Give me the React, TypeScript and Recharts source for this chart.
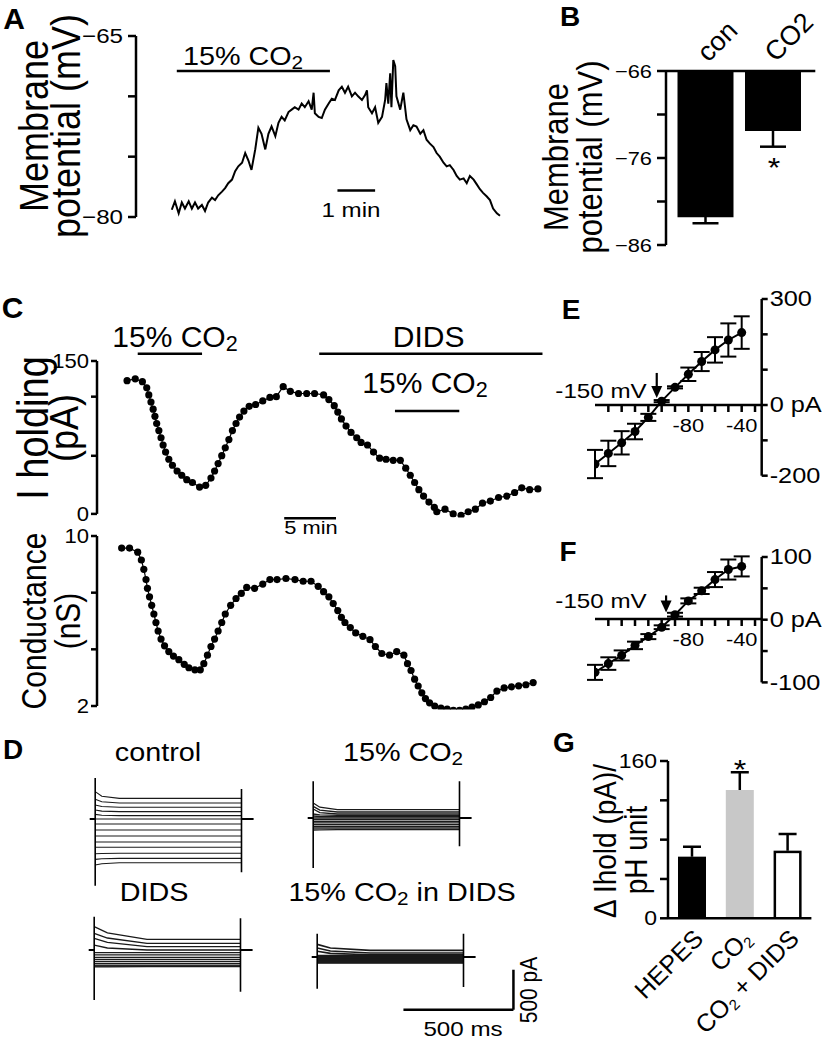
import React from "react";
import {
  LineChart, Line, BarChart, Bar, XAxis, YAxis, ErrorBar,
  ReferenceLine, ReferenceDot,
} from "recharts";

const FONT = '"Liberation Sans", Arial, Helvetica, sans-serif';
const AXIS = { stroke: "#000", strokeWidth: 2.5 };

// ---------- A: membrane potential trace ----------
const A_TIME_S = [0, 5, 11, 16, 21, 27, 32, 37, 42, 48, 53, 58, 64, 69, 74, 80, 85, 90, 96, 101, 106, 112, 117, 122, 127, 133, 138, 143, 149, 154, 159, 165, 170, 175, 180, 186, 191, 196, 202, 207, 212, 218, 223, 226, 228, 234, 239, 244, 250, 255, 260, 266, 271, 276, 281, 287, 292, 297, 303, 308, 311, 313, 319, 324, 329, 335, 340, 342, 345, 348, 350, 353, 356, 358, 364, 369, 374, 380, 385, 390, 396, 401, 406, 411, 417, 422, 427, 433, 438, 443, 449, 454, 459, 465, 470, 475, 481, 486, 491, 496, 502, 507, 512, 518, 523];
const A_VM = [-79.4, -78.7, -79.7, -78.8, -79.3, -78.7, -79.3, -78.8, -79.3, -79.0, -79.5, -78.8, -78.4, -78.6, -78.2, -77.9, -77.6, -77.2, -76.9, -76.2, -75.8, -75.5, -74.7, -75.3, -76.1, -74.4, -72.6, -73.1, -74.4, -73.1, -72.5, -73.3, -72.2, -71.7, -72.0, -71.3, -71.1, -70.9, -71.1, -70.6, -70.9, -70.4, -71.1, -69.7, -71.4, -71.7, -71.8, -71.1, -70.6, -70.2, -70.3, -69.5, -69.2, -69.7, -69.2, -70.0, -69.7, -70.0, -70.3, -69.9, -69.5, -70.9, -71.4, -70.9, -72.2, -71.7, -70.3, -68.9, -70.6, -68.1, -70.9, -67.0, -67.5, -70.0, -71.1, -69.7, -71.9, -72.8, -72.4, -72.5, -73.1, -72.8, -73.6, -73.9, -74.2, -74.7, -75.0, -75.5, -75.8, -75.7, -76.1, -76.6, -76.9, -76.8, -77.2, -76.6, -76.9, -77.3, -77.7, -78.0, -78.3, -78.6, -79.3, -79.7, -79.9];
const A_TICKS = [-80, -75, -70, -65];

// ---------- B: mean membrane potential ----------
const B_GROUPS = ["con", "CO2"];
const B_VM = [-82.8, -72.9];
const B_SEM = [0.7, 1.8];
const B_TICKS = [-86, -81, -76, -71, -66];

// ---------- C: holding current and conductance vs time ----------
const C_TIME_MIN = [0, 0.79, 1.48, 1.9, 2.1, 2.31, 2.52, 2.69, 2.86, 3.07, 3.28, 3.48, 3.72, 4.03, 4.38, 4.83, 5.28, 5.76, 6.31, 7.0, 7.59, 8.1, 8.45, 8.79, 9.14, 9.48, 9.83, 10.17, 10.52, 10.86, 11.28, 11.79, 12.41, 13.1, 13.79, 14.41, 15.07, 15.76, 16.55, 17.34, 18.1, 18.97, 19.48, 20.0, 20.34, 20.69, 21.14, 21.62, 22.17, 22.59, 23.21, 23.79, 24.38, 25.0, 25.69, 26.38, 26.9, 27.34, 27.76, 28.17, 28.62, 29.14, 29.66, 29.9, 30.69, 31.48, 32.24, 32.93, 33.62, 34.31, 35.07, 35.86, 36.66, 37.41, 38.1, 38.86, 39.66];
const C_IHOLD_PA = [130.7, 132.5, 129.7, 123.7, 116.7, 109.7, 102.7, 95.7, 88.7, 81.7, 74.7, 67.6, 60.6, 53.6, 47.7, 42.1, 37.9, 33.6, 30.8, 26.3, 28.0, 35.1, 42.1, 49.4, 57.1, 64.8, 72.9, 81.7, 88.7, 95.0, 100.9, 105.5, 107.3, 110.8, 114.3, 115.0, 124.8, 120.2, 118.1, 118.1, 118.1, 116.7, 112.2, 106.2, 99.9, 93.2, 86.2, 79.9, 74.7, 70.1, 67.6, 60.6, 54.7, 53.6, 52.6, 52.6, 44.9, 37.9, 30.8, 23.8, 17.5, 11.6, 6.3, 2.1, 4.6, 0, -1.4, 2.1, 4.6, 10.5, 12.6, 16.1, 17.5, 21.0, 25.6, 23.8, 24.5];
const C_G_TIME_MIN = [-0.52, 0.24, 1.03, 1.38, 1.62, 1.83, 1.97, 2.17, 2.38, 2.59, 2.79, 3.0, 3.28, 3.62, 4.03, 4.48, 5.0, 5.52, 5.97, 6.55, 7.07, 7.41, 7.76, 8.1, 8.45, 8.79, 9.14, 9.48, 10.0, 10.52, 11.03, 11.55, 12.31, 13.1, 13.79, 14.48, 15.34, 16.21, 17.0, 17.76, 18.45, 18.97, 19.48, 19.9, 20.34, 20.69, 21.03, 21.55, 22.07, 22.76, 23.45, 23.97, 24.59, 25.34, 26.03, 26.72, 27.07, 27.41, 27.76, 28.1, 28.45, 28.8, 29.2, 29.7, 30.3, 30.9, 31.5, 32.1, 32.7, 33.3, 33.9, 34.5, 35.1, 35.7, 36.4, 37.1, 37.8, 38.5, 39.2];
const C_G_NS = [9.43, 9.43, 9.24, 8.87, 8.43, 7.95, 7.54, 7.14, 6.74, 6.33, 5.93, 5.53, 5.15, 4.83, 4.56, 4.35, 4.18, 3.96, 3.8, 3.7, 3.7, 3.99, 4.39, 4.8, 5.15, 5.53, 5.93, 6.33, 6.74, 7.06, 7.3, 7.58, 7.54, 7.74, 7.95, 7.95, 8.0, 7.95, 7.87, 7.87, 7.63, 7.38, 7.14, 6.82, 6.49, 6.17, 5.93, 5.69, 5.44, 5.28, 5.12, 4.8, 4.47, 4.39, 4.56, 4.39, 3.99, 3.67, 3.26, 2.94, 2.62, 2.35, 2.15, 2.0, 1.9, 1.85, 1.8, 1.8, 1.85, 1.95, 2.05, 2.2, 2.4, 2.7, 2.85, 2.9, 2.95, 3.0, 3.1];
const C_I_TICKS = [0, 57, 115, 150];
const C_G_TICKS = [2, 4.667, 7.333, 10];

// ---------- D: current families (pA, relative to holding) ----------
const D_T_FAST = [0, 30, 110, 665];
const D_T_SLOW = [0, 60, 240, 665];
const D_CTRL_START = [342, 246, 175, 112, 58, 0, -62, -138, -212, -288, -354, -435, -505, -575];
const D_CTRL_MID = [285, 215, 156, 98, 46, 0, -62, -138, -212, -288, -354, -431, -497, -560];
const D_CTRL_LEVEL = [258, 200, 146, 92, 42, 0, -62, -138, -212, -288, -354, -429, -492, -546];
const D_CTRL_SPIKES = [512, -833, 375, -667];
const D_CO2_START = [188, 146, 112, 50, 25, 0, -21, -42, -62, -83, -104, -125, -150];
const D_CO2_MID = [135, 98, 68, 38, 19, 0, -21, -42, -62, -83, -104, -125, -148];
const D_CO2_LEVEL = [104, 75, 50, 33, 17, 0, -21, -42, -62, -83, -104, -125, -146];
const D_CO2_SPIKES = [458, -625, 458, -354];
const D_DIDS_START = [292, 208, 146, 60, -33, -62, -92, -117, -142, -167, -188, -200, -212];
const D_DIDS_MID = [215, 150, 95, 25, -33, -62, -92, -117, -142, -167, -188, -200, -210];
const D_DIDS_LEVEL = [133, 83, 42, 0, -33, -62, -92, -117, -142, -167, -188, -200, -208];
const D_DIDS_SPIKES = [417, -625, 396, -521];
const D_CD_START = [158, 112, 71, 17, 4, -8, -21, -33, -46, -58, -67, -75];
const D_CD_MID = [112, 75, 45, 17, 4, -8, -21, -33, -46, -58, -67, -75];
const D_CD_LEVEL = [83, 50, 29, 17, 4, -8, -21, -33, -46, -58, -67, -75];
const D_CD_SPIKES = [292, -396, 292, -375];

// ---------- E, F: I-V relations ----------
const IV_MV = [-150, -140, -130, -120, -110, -100, -90, -80, -70, -60, -50, -40];
const E_PA = [-167, -137, -107, -75, -35, 11, 50, 87, 123, 156, 184, 205];
const E_SEM = [40, 36, 33, 22, 10, 3, 3, 19, 27, 36, 47, 46];
const F_PA = [-84, -70, -57, -41, -27, -12, 8, 30, 46, 64, 80, 85];
const F_SEM = [12, 10, 8, 6, 4, 3, 3, 4, 5, 12, 16, 16];
const IV_XTICKS = [-140, -130, -120, -110, -100, -90, -80, -70, -60, -50, -40, -30];
const E_YTICKS = [-200, -100, 0, 100, 200, 300];
const F_YTICKS = [-100, -50, 0, 50, 100];

// ---------- G: delta Ihold per pH unit ----------
const G_GROUPS = ["HEPES", "CO2", "CO2 + DIDS"];
const G_VALUES = [62.7, 130.5, 68.8];
const G_SEM = [10, 18, 17];
const G_TICKS = [0, 40, 80, 120, 160];
const G_FILL = ["#000", "#c8c8c8", "#fff"];
const G_STROKE = ["none", "none", "#000"];

// ---------- helpers ----------
const Txt = ({ x, y, size, rot = 0, sx = 1.15, bold = false, children }: any) => (
  <div
    style={{
      position: "absolute", left: x, top: y,
      transform: `translate(-50%, -50%) scaleX(${sx}) rotate(${rot}deg)`,
      fontFamily: FONT, fontSize: size, fontWeight: bold ? 700 : 400,
      lineHeight: 1, whiteSpace: "nowrap", color: "#000",
    }}
  >
    {children}
  </div>
);

const Sub = ({ children }: any) => (
  <span style={{ fontSize: "0.72em", position: "relative", top: "0.2em" }}>{children}</span>
);

const makeTick = (labels: Record<string, string>, size: number, anchor: string, dx = 0, dy = 0, sx = 1.15) =>
  (p: any) => {
    const s = labels[String(p.payload?.value)];
    if (s === undefined) return <g />;
    return (
      <text
        transform={`translate(${p.x + dx},${p.y + dy}) scale(${sx},1)`}
        textAnchor={anchor as any} dominantBaseline="central"
        fontFamily={FONT} fontSize={size} fill="#000"
      >
        {s}
      </text>
    );
  };

const arrowShape = (len: number) => (p: any) => {
  const { cx, cy } = p;
  return (
    <g>
      <line x1={cx} y1={cy - len} x2={cx} y2={cy - 9} stroke="#000" strokeWidth={2.2} />
      <polygon points={`${cx - 5.5},${cy - 12} ${cx + 5.5},${cy - 12} ${cx},${cy}`} fill="#000" />
    </g>
  );
};

const Abs = ({ left, top, children }: any) => (
  <div style={{ position: "absolute", left, top }}>{children}</div>
);

// ---------- A ----------
const aRows = A_TIME_S.map((t, i) => ({ t, vm: A_VM[i] }));

function PanelA() {
  return (
    <>
      <Abs left={72} top={16}>
        <LineChart width={438} height={221} data={aRows} margin={{ top: 20, right: 10, bottom: 20, left: 0 }}>
          <XAxis type="number" dataKey="t" domain={[-57, 523]} hide />
          <YAxis
            type="number" domain={[-80, -65]} ticks={A_TICKS} interval={0} width={64}
            axisLine={AXIS} tickLine={AXIS} tickSize={8} tickMargin={5}
            tick={makeTick({ "-65": "\u221265", "-80": "\u221280" }, 21, "end")}
          />
          <ReferenceLine segment={[{ x: 8, y: -67.9 }, { x: 252, y: -67.9 }]} stroke="#000" strokeWidth={2.5} />
          <ReferenceLine segment={[{ x: 264, y: -77.8 }, { x: 324, y: -77.8 }]} stroke="#000" strokeWidth={2.5} />
          <Line dataKey="vm" stroke="#000" strokeWidth={2} dot={false} isAnimationActive={false} />
        </LineChart>
      </Abs>
      <Txt x={14} y={19} size={30} bold sx={1}>A</Txt>
      <Txt x={243} y={56} size={25}>15% CO<Sub>2</Sub></Txt>
      <Txt x={351} y={209} size={21}>1 min</Txt>
      <Txt x={34} y={126} size={36} rot={-90}>Membrane</Txt>
      <Txt x={66} y={126} size={36} rot={-90}>potential (mV)</Txt>
    </>
  );
}

// ---------- B ----------
const bRows = B_GROUPS.map((g, i) => ({ g, v: B_VM[i], sem: B_SEM[i] }));

const bTick = (p: any) => (
  <text
    transform={`translate(${p.x + 3},${p.y - 8}) rotate(-45)`}
    textAnchor="start" fontFamily={FONT} fontSize={27} fill="#000"
  >
    {p.payload.value}
  </text>
);

function PanelB() {
  return (
    <>
      <Abs left={599.7} top={0}>
        <BarChart width={221.3} height={261} data={bRows} margin={{ top: 0, right: 6, bottom: 16, left: 0 }}>
          <XAxis
            dataKey="g" orientation="top" height={71} interval={0}
            axisLine={AXIS} tickLine={false} tickSize={0} tickMargin={0}
            tick={bTick} padding={{ left: 5.5, right: 8.8 }}
          />
          <YAxis
            type="number" domain={[-86, -66]} ticks={B_TICKS} interval={0} width={66} allowDataOverflow
            axisLine={AXIS} tickLine={AXIS} tickSize={9} tickMargin={5}
            tick={makeTick({ "-66": "\u221266", "-76": "\u221276", "-86": "\u221286" }, 19, "end")}
          />
          <Bar dataKey="v" fill="#000" barSize={56} isAnimationActive={false}>
            <ErrorBar dataKey="sem" width={13} stroke="#000" strokeWidth={2.5} direction="y" />
          </Bar>
        </BarChart>
      </Abs>
      <Txt x={570} y={17} size={28} bold sx={1}>B</Txt>
      <Txt x={774} y={168} size={28}>*</Txt>
      <Txt x={556} y={157} size={31} rot={-90}>Membrane</Txt>
      <Txt x={590} y={157} size={31} rot={-90}>potential (mV)</Txt>
    </>
  );
}

// ---------- C ----------
const cIRows = C_TIME_MIN.map((t, i) => ({ t, v: C_IHOLD_PA[i] }));
const cGRows = C_G_TIME_MIN.map((t, i) => ({ t, v: C_G_NS[i] }));
const C_DOT = { r: 3.6, fill: "#000", stroke: "#000", strokeWidth: 0, clipDot: false };

function PanelC() {
  return (
    <>
      <Abs left={47} top={321.4}>
        <LineChart width={506.6} height={208.9} data={cIRows} margin={{ top: 40, right: 8, bottom: 16, left: 0 }}>
          <XAxis type="number" dataKey="t" domain={[-2.9, 40.4]} hide allowDataOverflow />
          <YAxis
            type="number" domain={[0, 150]} ticks={C_I_TICKS} interval={0} width={50} allowDataOverflow
            axisLine={AXIS} tickLine={AXIS} tickSize={6} tickMargin={2}
            tick={makeTick({ "0": "0", "150": "150" }, 21, "end", 0, 0, 1.05)}
          />
          <ReferenceLine ifOverflow="visible" segment={[{ x: 1.03, y: 157 }, { x: 7.24, y: 157 }]} stroke="#000" strokeWidth={2.5} />
          <ReferenceLine ifOverflow="visible" segment={[{ x: 18.55, y: 157 }, { x: 40.1, y: 157 }]} stroke="#000" strokeWidth={2.5} />
          <ReferenceLine ifOverflow="visible" segment={[{ x: 25.86, y: 100.9 }, { x: 32.07, y: 100.9 }]} stroke="#000" strokeWidth={2.5} />
          <ReferenceLine ifOverflow="visible" segment={[{ x: 15.17, y: -4.2 }, { x: 20.17, y: -4.2 }]} stroke="#000" strokeWidth={2.5} />
          <Line dataKey="v" stroke="#000" strokeWidth={1.2} dot={C_DOT} isAnimationActive={false} />
        </LineChart>
      </Abs>
      <Abs left={47} top={520}>
        <LineChart width={506.6} height={202} data={cGRows} margin={{ top: 16, right: 8, bottom: 16, left: 0 }}>
          <XAxis type="number" dataKey="t" domain={[-2.9, 40.4]} hide allowDataOverflow />
          <YAxis
            type="number" domain={[2, 10]} ticks={C_G_TICKS} interval={0} width={50} allowDataOverflow
            axisLine={AXIS} tickLine={AXIS} tickSize={6} tickMargin={2}
            tick={makeTick({ "2": "2", "10": "10" }, 21, "end", 0, 0, 1.05)}
          />
          <Line dataKey="v" stroke="#000" strokeWidth={1.2} dot={C_DOT} isAnimationActive={false} />
        </LineChart>
      </Abs>
      <Txt x={12.5} y={308} size={30} bold sx={1}>C</Txt>
      <Txt x={175} y={337} size={30} sx={1}>15% CO<Sub>2</Sub></Txt>
      <Txt x={428.6} y={337} size={30} sx={1}>DIDS</Txt>
      <Txt x={425} y={383} size={30} sx={1}>15% CO<Sub>2</Sub></Txt>
      <Txt x={311} y={527} size={19}>5 min</Txt>
      <Txt x={33} y={428} size={38} rot={-90}>I holding</Txt>
      <Txt x={64} y={428} size={36} rot={-90}>(pA)</Txt>
      <Txt x={34} y={621} size={30} rot={-90}>Conductance</Txt>
      <Txt x={68} y={621} size={30} rot={-90}>(nS)</Txt>
    </>
  );
}

// ---------- D ----------
const D_PX_PER_MS = 0.22;
const D_PX_PER_PA = 0.08;
const D_T_MIN = -60;
const D_PA_MIN = -900;
const D_PA_MAX = 600;

function TraceFamily(props: any) {
  const { onsetX, baseY, tMax, shapeT, start, mid, level, spikes, traceWidth = 1.1, children } = props;
  const width = (tMax - D_T_MIN) * D_PX_PER_MS;
  const height = (D_PA_MAX - D_PA_MIN) * D_PX_PER_PA;
  const left = onsetX + D_T_MIN * D_PX_PER_MS;
  const top = baseY - D_PA_MAX * D_PX_PER_PA;
  const pulseEnd = shapeT[shapeT.length - 1];
  return (
    <Abs left={left} top={top}>
      <LineChart width={width} height={height} margin={{ top: 0, right: 0, bottom: 0, left: 0 }}>
        <XAxis type="number" dataKey="t" domain={[D_T_MIN, tMax]} hide allowDataOverflow />
        <YAxis type="number" dataKey="v" domain={[D_PA_MIN, D_PA_MAX]} hide allowDataOverflow />
        {level.map((lv: number, i: number) => (
          <Line
            key={`tr${i}`}
            data={[
              { t: shapeT[0], v: start[i] }, { t: shapeT[1], v: mid[i] },
              { t: shapeT[2], v: lv }, { t: shapeT[3], v: lv },
            ]}
            dataKey="v" stroke="#1a1a1a" strokeWidth={traceWidth} dot={false} isAnimationActive={false}
          />
        ))}
        <Line data={[{ t: -25, v: 0 }, { t: 0, v: 0 }]} dataKey="v" stroke="#000" strokeWidth={2.2} dot={false} isAnimationActive={false} />
        <Line data={[{ t: pulseEnd, v: 0 }, { t: pulseEnd + 55, v: 0 }]} dataKey="v" stroke="#000" strokeWidth={2.2} dot={false} isAnimationActive={false} />
        <Line data={[{ t: 0, v: spikes[0] }, { t: 0, v: spikes[1] }]} dataKey="v" stroke="#000" strokeWidth={1.6} dot={false} isAnimationActive={false} />
        <Line data={[{ t: pulseEnd, v: spikes[2] }, { t: pulseEnd, v: spikes[3] }]} dataKey="v" stroke="#000" strokeWidth={1.6} dot={false} isAnimationActive={false} />
        {children}
      </LineChart>
    </Abs>
  );
}

function PanelD() {
  return (
    <>
      <TraceFamily onsetX={95.5} baseY={818.5} tMax={760} shapeT={D_T_FAST}
        start={D_CTRL_START} mid={D_CTRL_MID} level={D_CTRL_LEVEL} spikes={D_CTRL_SPIKES} />
      <TraceFamily onsetX={313.3} baseY={818.3} tMax={760} shapeT={D_T_FAST} traceWidth={1.3}
        start={D_CO2_START} mid={D_CO2_MID} level={D_CO2_LEVEL} spikes={D_CO2_SPIKES} />
      <TraceFamily onsetX={94} baseY={950} tMax={760} shapeT={D_T_SLOW} traceWidth={1.3}
        start={D_DIDS_START} mid={D_DIDS_MID} level={D_DIDS_LEVEL} spikes={D_DIDS_SPIKES} />
      <TraceFamily onsetX={316.7} baseY={956.7} tMax={920} shapeT={D_T_SLOW} traceWidth={1.6}
        start={D_CD_START} mid={D_CD_MID} level={D_CD_LEVEL} spikes={D_CD_SPIKES}>
        <ReferenceLine segment={[{ x: 892, y: -159 }, { x: 892, y: -659 }]} stroke="#000" strokeWidth={2.5} />
        <ReferenceLine segment={[{ x: 392, y: -659 }, { x: 892, y: -659 }]} stroke="#000" strokeWidth={2.5} />
      </TraceFamily>
      <Txt x={13} y={750} size={28} bold sx={1}>D</Txt>
      <Txt x={158} y={752} size={25}>control</Txt>
      <Txt x={403} y={752} size={25}>15% CO<Sub>2</Sub></Txt>
      <Txt x={154} y={892} size={25}>DIDS</Txt>
      <Txt x={402} y={892} size={25}>15% CO<Sub>2</Sub> in DIDS</Txt>
      <Txt x={463} y={1028} size={21}>500 ms</Txt>
      <Txt x={528} y={990} size={21} rot={-90}>500 pA</Txt>
    </>
  );
}

// ---------- E, F ----------
const eRows = IV_MV.map((mv, i) => ({ mv, pa: E_PA[i], sem: E_SEM[i] }));
const fRows = IV_MV.map((mv, i) => ({ mv, pa: F_PA[i], sem: F_SEM[i] }));

function IVPanel(props: any) {
  const { rows, plotTop, plotH, zeroY, domain, yTicks, yLabels, arrowMv, arrowPa, arrowLen } = props;
  return (
    <>
      <Abs left={587} top={plotTop - 16}>
        <LineChart width={236.7} height={plotH + 32} data={rows} margin={{ top: 16, right: 0, bottom: 16, left: 8 }}>
          <XAxis type="number" dataKey="mv" domain={[-150, -25]} hide allowDataOverflow />
          <YAxis
            type="number" orientation="right" domain={domain} ticks={yTicks} interval={0} width={62} allowDataOverflow
            axisLine={AXIS} tickLine={AXIS} tickSize={6} tickMargin={2}
            tick={makeTick(yLabels, 22, "start")}
          />
          <Line dataKey="pa" stroke="#000" strokeWidth={2} dot={{ r: 4.5, fill: "#000", stroke: "none" }} isAnimationActive={false}>
            <ErrorBar dataKey="sem" width={8} stroke="#000" strokeWidth={2} direction="y" />
          </Line>
          <ReferenceDot x={arrowMv} y={arrowPa} r={0} ifOverflow="visible" shape={arrowShape(arrowLen)} />
        </LineChart>
      </Abs>
      <Abs left={595} top={zeroY - 10}>
        <LineChart width={166.7} height={45} data={rows} margin={{ top: 0, right: 0, bottom: 0, left: 0 }}>
          <XAxis
            type="number" dataKey="mv" domain={[-150, -25]} ticks={IV_XTICKS} interval={0} height={35} allowDataOverflow
            axisLine={AXIS} tickLine={AXIS} tickSize={7} tickMargin={2}
            tick={makeTick({ "-80": "-80", "-40": "-40" }, 19, "middle", 0, 11)}
          />
          <YAxis hide domain={[0, 1]} />
          <Line dataKey="pa" stroke="none" dot={false} isAnimationActive={false} />
        </LineChart>
      </Abs>
    </>
  );
}

function PanelEF() {
  return (
    <>
      <IVPanel rows={eRows} plotTop={299} plotH={176.7} zeroY={405} domain={[-200, 300]} yTicks={E_YTICKS}
        yLabels={{ "300": "300", "0": "0 pA", "-200": "-200" }} arrowMv={-103.7} arrowPa={20} arrowLen={25} />
      <IVPanel rows={fRows} plotTop={556.6} plotH={125.4} zeroY={619.3} domain={[-100, 100]} yTicks={F_YTICKS}
        yLabels={{ "100": "100", "0": "0 pA", "-100": "-100" }} arrowMv={-96.7} arrowPa={11.6} arrowLen={17} />
      <Txt x={571} y={310} size={28} bold sx={1}>E</Txt>
      <Txt x={601} y={390} size={21}>-150 mV</Txt>
      <Txt x={568} y={552} size={28} bold sx={1}>F</Txt>
      <Txt x={601} y={600} size={21}>-150 mV</Txt>
    </>
  );
}

// ---------- G ----------
const gRows = G_GROUPS.map((g, i) => ({ g, v: G_VALUES[i], sem: G_SEM[i] }));

const gBarShape = (p: any) => {
  const { x, y, width, height, payload } = p;
  const idx = G_GROUPS.indexOf(payload.g);
  const perUnit = height / payload.v;
  const errTop = y - payload.sem * perUnit;
  const cx = x + width / 2;
  const inset = G_STROKE[idx] === "none" ? 0 : 1.25;
  return (
    <g>
      <rect x={x + inset} y={y + inset} width={width - 2 * inset} height={height - inset}
        fill={G_FILL[idx]} stroke={G_STROKE[idx]} strokeWidth={2.5} />
      <line x1={cx} y1={y} x2={cx} y2={errTop} stroke="#000" strokeWidth={2.5} />
      <line x1={cx - 9} y1={errTop} x2={cx + 9} y2={errTop} stroke="#000" strokeWidth={2.5} />
    </g>
  );
};

const gTick = (p: any) => {
  const label = String(p.payload.value);
  const rest = label.startsWith("CO2") ? label.slice(3) : null;
  return (
    <text
      transform={`translate(${p.x + 13},${p.y + 22}) rotate(-45)`}
      textAnchor="end" fontFamily={FONT} fontSize={25} fill="#000"
    >
      {rest === null ? label : (
        <>
          <tspan>CO</tspan>
          <tspan fontSize={15} dy={4}>2</tspan>
          {rest ? <tspan dy={-4}>{rest}</tspan> : null}
        </>
      )}
    </text>
  );
};

function PanelG() {
  return (
    <>
      <Abs left={612.3} top={731}>
        <BarChart width={207.4} height={308} data={gRows} margin={{ top: 30, right: 8, bottom: 0, left: 0 }}>
          <XAxis
            dataKey="g" height={120.7} interval={0}
            axisLine={AXIS} tickLine={false} tickSize={0} tickMargin={0} tick={gTick}
          />
          <YAxis
            type="number" domain={[0, 160]} ticks={G_TICKS} interval={0} width={56} allowDataOverflow
            axisLine={AXIS} tickLine={AXIS} tickSize={8} tickMargin={3}
            tick={makeTick({ "0": "0", "160": "160" }, 20, "end")}
          />
          <Bar dataKey="v" barSize={28} shape={gBarShape} isAnimationActive={false} />
        </BarChart>
      </Abs>
      <Txt x={564} y={743} size={28} bold sx={1}>G</Txt>
      <Txt x={740} y={770} size={28}>*</Txt>
      <Txt x={606} y={841} size={28} rot={-90}>{"\u0394 Ihold (pA)/"}</Txt>
      <Txt x={637} y={850} size={28} rot={-90}>pH unit</Txt>
    </>
  );
}

export default function App() {
  return (
    <div
      style={{
        position: "absolute", left: 0, top: 0, width: 827, height: 1039,
        background: "#fff", overflow: "hidden", fontFamily: FONT,
      }}
    >
      <PanelA />
      <PanelB />
      <PanelC />
      <PanelD />
      <PanelEF />
      <PanelG />
    </div>
  );
}
